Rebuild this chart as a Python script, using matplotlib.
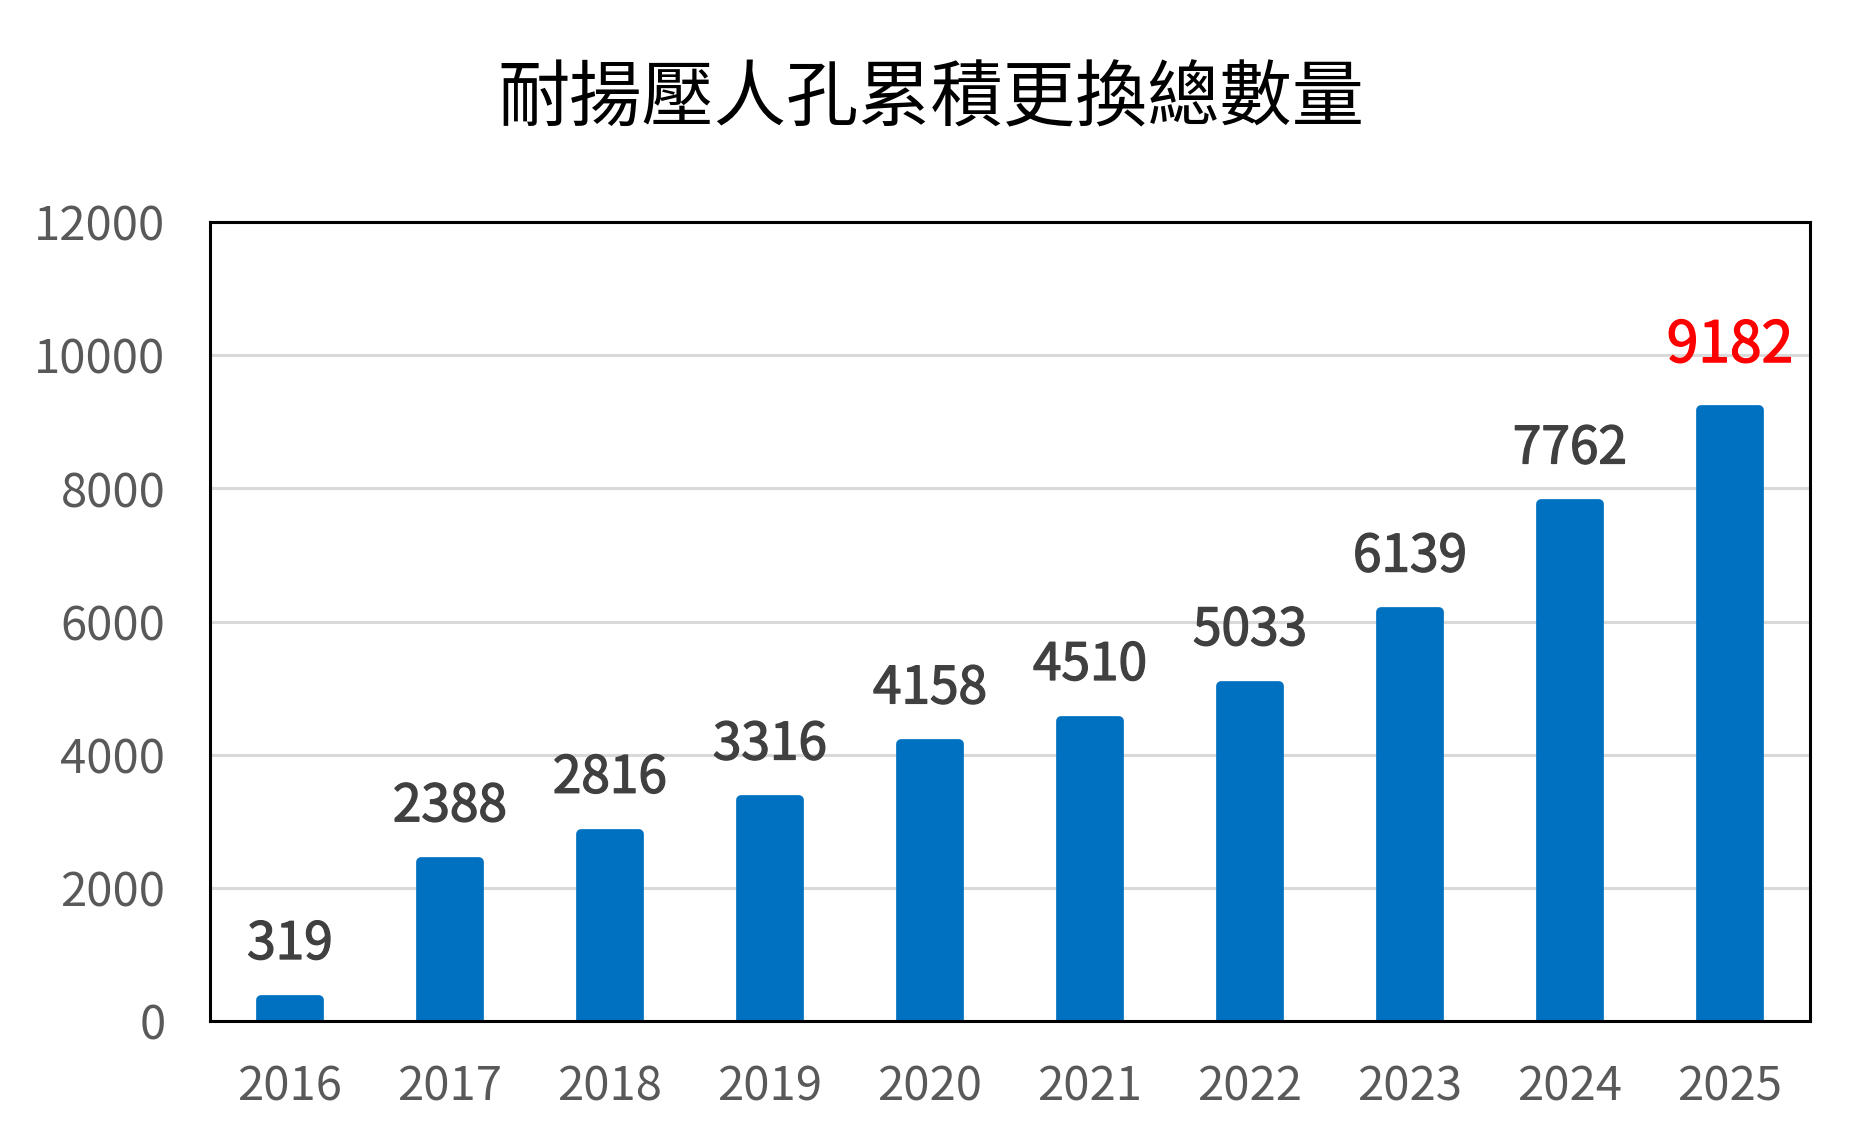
import numpy as np
import matplotlib
matplotlib.use('Agg')
import matplotlib.pyplot as plt
import matplotlib.patheffects as pe

plt.rcParams['font.family'] = ['Noto Sans CJK TC', 'DejaVu Sans']

# data
years = ['2016', '2017', '2018', '2019', '2020', '2021', '2022', '2023', '2024', '2025']
totals = [319, 2388, 2816, 3316, 4158, 4510, 5033, 6139, 7762, 9182]
title = '耐揚壓人孔累積更換總數量'

bar_color = '#0070c0'

fig = plt.figure(figsize=(18.61, 11.44), dpi=100)
ax = fig.add_axes([0.1128, 0.1075, 0.8598, 0.6984])

x = np.arange(len(years))
# thick round-joined edge gives the rounded bar tops
ax.bar(x, totals, width=0.36, color=bar_color, edgecolor=bar_color,
       linewidth=7, joinstyle='round', zorder=3)

ax.set_xlim(-0.5, len(years) - 0.5)
ax.set_ylim(0, 12000)
ax.set_yticks(np.arange(0, 12001, 2000))
ax.set_xticks(x)
ax.set_xticklabels(years)

ax.grid(axis='y', color='#d9d9d9', linewidth=2.2, zorder=0)
ax.tick_params(axis='both', length=0, labelsize=34, labelcolor='#595959')
ax.tick_params(axis='y', pad=32)
ax.tick_params(axis='x', pad=30)

for s in ax.spines.values():
    s.set_color('black')
    s.set_linewidth(2.2)
    s.set_zorder(4)

# value labels above bars, last one highlighted
for i, v in enumerate(totals):
    last = i == len(totals) - 1
    col = '#ff0000' if last else '#404040'
    t = ax.annotate(str(v), (x[i], v), xytext=(0, 46 if last else 40),
                    textcoords='offset points', ha='center', va='center',
                    fontsize=41 if last else 37, color=col)
    # slightly heavier strokes, like a medium weight
    t.set_path_effects([pe.withStroke(linewidth=1.0, foreground=col)])

fig.text(0.5, 1 - 100 / 1144, title, ha='center', va='center',
         fontsize=52, color='black')

fig.savefig('out.png', dpi=100, facecolor='white')
